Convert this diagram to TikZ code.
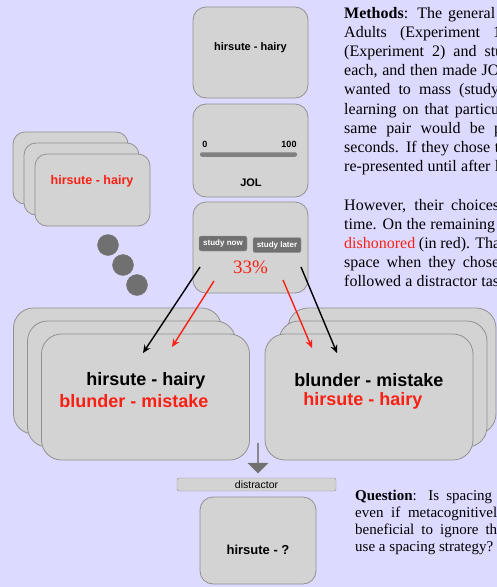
\documentclass[tikz,border=0pt]{standalone}
\usepackage{fontspec}
\setmainfont{Liberation Serif}
\setsansfont{Liberation Sans}
\usetikzlibrary{arrows.meta,shapes.arrows}

\definecolor{lavender}{RGB}{221,218,255}
\definecolor{cardgray}{RGB}{211,211,211}
\definecolor{edgegray}{RGB}{145,145,145}
\definecolor{dotgray}{RGB}{112,112,112}
\definecolor{alertred}{RGB}{250,32,20}

\tikzset{
  card/.style={draw=edgegray, fill=cardgray, line width=0.8pt, rounded corners=13pt, inner sep=0pt},
  bigcard/.style={card, rounded corners=20pt, minimum width=208pt, minimum height=126pt},
  smallcard/.style={card, rounded corners=12pt, minimum width=115pt, minimum height=72pt},
  screen/.style={card, minimum width=115pt},
  word/.style={font=\sffamily\bfseries\fontsize{#1}{#1}\selectfont, inner sep=0pt},
  button/.style={draw=black!40, fill=dotgray, rounded corners=2pt, minimum width=48pt,
    minimum height=15pt, inner sep=0pt, text=white, font=\sffamily\bfseries\fontsize{8}{9}\selectfont},
  dot/.style={circle, draw=black!55, fill=dotgray, minimum size=21pt, inner sep=0pt},
  choice/.style={line width=1.4pt, -{Stealth[length=8pt,width=7pt]}},
  prose/.style={anchor=base west, inner sep=0pt, font=\fontsize{16}{19}\selectfont},
  query/.style={prose, font=\fontsize{15}{17}\selectfont},
}

\begin{document}
\begin{tikzpicture}[x=1pt,y=-1pt]
  \useasboundingbox (0,0) rectangle (497,587);
  \fill[lavender] (0,0) rectangle (497,587);
  \clip (0,0) rectangle (497,587);

  % pair held in mind
  \node[smallcard] (memC) at (70.5,168) {};
  \node[smallcard] (memB) at (81.5,179) {};
  \node[smallcard] (memA) at (92.5,190) {};
  \node[word=12.5, text=alertred] (memword) at (92,181) {hirsute - hairy};
  \node[dot] (dotA) at (108,245) {};
  \node[dot] (dotB) at (123,265) {};
  \node[dot] (dotC) at (137,285) {};

  % study, JOL, choice screens
  \node[screen, minimum height=91pt] (pair) at (250.5,52.5) {};
  \node[word=11] (pairword) at (250.5,48) {hirsute - hairy};
  \node[screen, minimum height=93pt] (jol) at (250.5,150.5) {};
  \node[word=9] (jollow) at (205,144) {0};
  \node[word=9] (jolhigh) at (289,144) {100};
  \node[fill=black!50, rounded corners=2pt, minimum width=97pt, minimum height=4.5pt,
    inner sep=0pt] (jolbar) at (248.5,154.5) {};
  \node[word=11] (jollabel) at (251,183) {JOL};
  \node[screen, minimum height=91pt] (choose) at (250.5,247.5) {};
  \node[button] (now) at (223,243.5) {study now};
  \node[button] (later) at (277,245) {study later};
  \node[text=alertred, font=\fontsize{19}{20}\selectfont, inner sep=0pt] (rate) at (250.5,267) {33\%};

  % massed stack
  \node[bigcard] (massC) at (117.5,371) {};
  \node[bigcard] (massB) at (131.5,384) {};
  \node[bigcard] (massA) at (145.5,397) {};
  \node[word=18] (massword) at (146,381) {hirsute - hairy};
  \node[word=18, text=alertred] (massred) at (134,401) {blunder - mistake};

  % spaced stack
  \node[bigcard] (spaceC) at (392,371) {};
  \node[bigcard] (spaceB) at (383,384) {};
  \node[bigcard] (spaceA) at (369,397) {};
  \node[word=18] (spaceword) at (369,380) {blunder - mistake};
  \node[word=18, text=alertred] (spacered) at (363,401) {hirsute - hairy};

  % distractor and test
  \node[single arrow, fill=dotgray, draw=black!55, shape border rotate=270, minimum width=20pt,
    minimum height=30pt, single arrow head extend=5pt, inner sep=0pt] (down) at (258,458) {};
  \node[draw=edgegray, fill=cardgray, rounded corners=2pt, minimum width=159pt, minimum height=13pt,
    inner sep=0pt, font=\sffamily\fontsize{10.5}{11}\selectfont] (distract) at (256.5,484.5) {distractor};
  \node[card, minimum width=116pt, minimum height=87pt] (test) at (258,540.5) {};
  \node[word=13] (testword) at (258,550) {hirsute - ?};

  % choice arrows
  \coordinate (nowBlack) at (200,267);
  \coordinate (nowRed) at (214,281);
  \coordinate (laterRed) at (283,280);
  \coordinate (laterBlack) at (301,267);
  \coordinate (massTipBlack) at (143,353);
  \coordinate (massTipRed) at (172,347);
  \coordinate (spaceTipRed) at (312,348);
  \coordinate (spaceTipBlack) at (337,353);
  \draw[choice] (nowBlack) -- (massTipBlack);
  \draw[choice, alertred] (nowRed) -- (massTipRed);
  \draw[choice, alertred] (laterRed) -- (spaceTipRed);
  \draw[choice] (laterBlack) -- (spaceTipBlack);

  % methods text
  \foreach \y/\w/\t [count=\i] in {
      18/151/{\textbf{Methods}: The general},
      37.2/157/{Adults (Experiment 1},
      56.4/159/{(Experiment 2) and stu},
      75.6/165/{each, and then made JOL},
      94.8/155/{wanted to mass (study},
      114/155/{learning on that particu},
      133.2/158/{same pair would be p},
      152.4/155/{seconds. If they chose t},
      171.6/155/{re-presented until after l},
      210/155/{However, their choices},
      229.2/151/{time. On the remaining},
      248.4/156/{\textcolor{alertred}{dishonored} (in red). Tha},
      267.6/155/{space when they chose},
      286.8/155/{followed a distractor tas}}
    \node[prose] (methods\i) at (344,\y) {\makebox[\w pt][s]{\t}};

  % question text
  \foreach \y/\w/\t [count=\i] in {
      500/137/{\textbf{Question}: Is spacing},
      517/142/{even if metacognitivel},
      534/142/{beneficial to ignore th},
      551/138/{use a spacing strategy?}}
    \node[query] (question\i) at (355,\y) {\makebox[\w pt][s]{\t}};
\end{tikzpicture}
\end{document}
